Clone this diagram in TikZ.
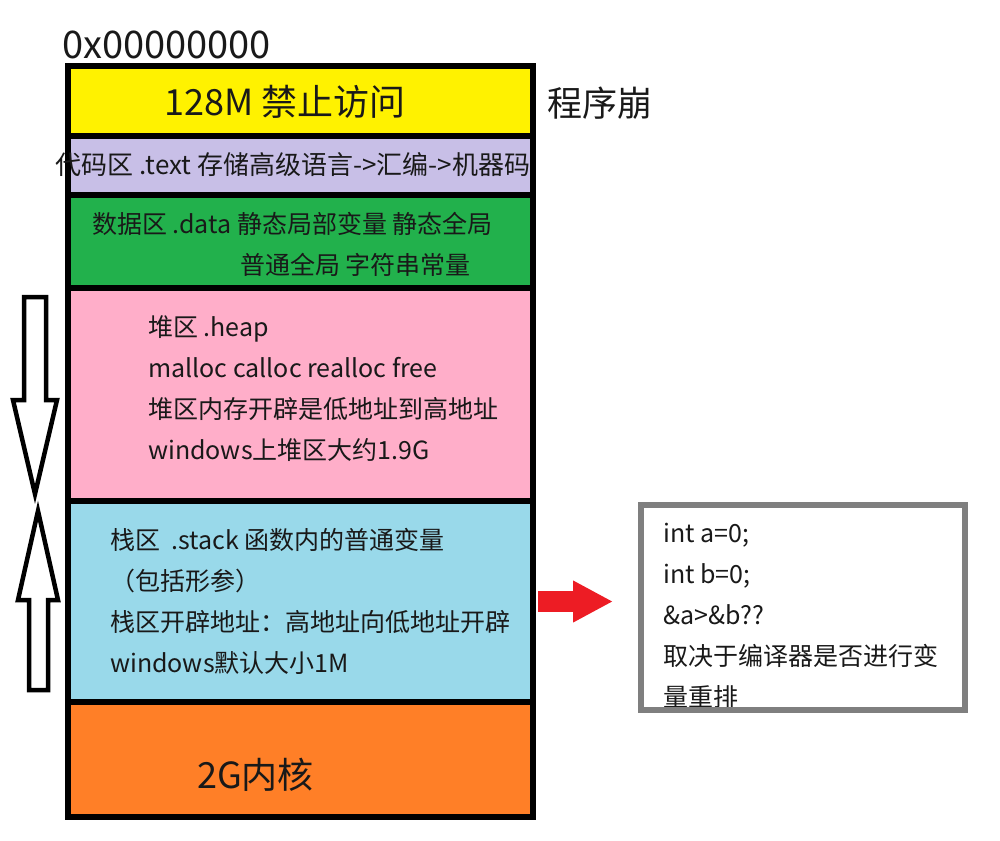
\documentclass[tikz,border=0pt]{standalone}
\usepackage{fontspec}
\setmainfont{Noto Sans CJK SC}
\usepackage{tikz}
\usetikzlibrary{arrows.meta,positioning}
\definecolor{paintyellow}{RGB}{255,242,0}
\definecolor{paintpurple}{RGB}{200,191,231}
\definecolor{paintgreen}{RGB}{34,177,76}
\definecolor{paintpink}{RGB}{255,174,201}
\definecolor{paintblue}{RGB}{153,217,234}
\definecolor{paintorange}{RGB}{255,127,39}
\definecolor{paintred}{RGB}{237,28,36}
\definecolor{paintgray}{RGB}{127,127,127}
\tikzstyle{memregion} = [rectangle, draw=black, line width=6pt, minimum width=465pt,
   inner sep=0pt, outer sep=0pt]
\tikzstyle{boxtext} = [inner sep=0pt, anchor=west, align=left, text=black!90,
   font=\fontsize{25}{41}\selectfont]
\tikzstyle{bigtext} = [inner sep=0pt, text=black!90, font=\fontsize{36}{40}\selectfont]
\tikzstyle{hollow} = [draw=black, line width=4.5pt, fill=white, line join=miter]
\tikzstyle{fatarrow} = [draw=paintred, line width=21pt, line cap=butt,
   -{Triangle[length=40pt,width=39pt]}]

\begin{document}
\begin{tikzpicture}[x=1pt, y=-1pt]

\useasboundingbox (0,0) rectangle (1000,840);

\node (forbid) [memregion, fill=paintyellow, minimum height=70pt, anchor=north west] at (68,66) {};
\node (code) [memregion, fill=paintpurple, minimum height=59pt, below=0pt of forbid] {};
\node (data) [memregion, fill=paintgreen, minimum height=93pt, below=0pt of code] {};
\node (heap) [memregion, fill=paintpink, minimum height=213pt, below=0pt of data] {};
\node (stack) [memregion, fill=paintblue, minimum height=201pt, below=0pt of heap] {};
\node (kernel) [memregion, fill=paintorange, minimum height=115pt, below=0pt of stack] {};

\node (addr) [bigtext, anchor=west, font=\fontsize{38}{40}\selectfont] at (62,45) {0x00000000};
\node (crash) [bigtext, anchor=west, font=\fontsize{35}{40}\selectfont] at (547,103) {程序崩};
\node (forbidtext) [bigtext] at (285,102) {128M 禁止访问};
\node (codetext) [boxtext, anchor=center, font=\fontsize{26}{41}\selectfont] at (293,165) {代码区 .text 存储高级语言->汇编->机器码};
\node (datatext) [boxtext] at (92,224) {数据区 .data 静态局部变量 静态全局};
\node (datatext2) [boxtext] at (240,265) {普通全局 字符串常量};
\node (heaptext) [boxtext] at (148,389) {堆区 .heap\\malloc calloc realloc free\\堆区内存开辟是低地址到高地址\\windows上堆区大约1.9G};
\node (stacktext) [boxtext] at (110,601) {栈区~~.stack 函数内的普通变量\\（包括形参）\\栈区开辟地址：高地址向低地址开辟\\windows默认大小1M};
\node (kerneltext) [bigtext, anchor=west] at (197,775) {2G内核};

\draw [hollow] (24,297) -- (46,297) -- (46,400) -- (57,400) -- (35,494) -- (13,400) -- (24,400) -- cycle;
\draw [hollow] (29,690) -- (48,690) -- (48,600) -- (58,600) -- (38,511) -- (18,600) -- (29,600) -- cycle;

\node (memo) [rectangle, fill=white, minimum width=324pt, minimum height=205pt,
   inner sep=0pt, outer sep=0pt, anchor=north west] at (641,505) {};
\node (memotext) [boxtext] at (663,616) {int a=0;\\int b=0;\\\&a>\&b??\\取决于编译器是否进行变\\量重排};
\draw [draw=paintgray, line width=6.5pt] (memo.north west) rectangle (memo.south east);

\draw [fatarrow, shorten <=5pt, shorten >=28pt] (stack.east) -- (stack.east -| memo.west);

\end{tikzpicture}
\end{document}
